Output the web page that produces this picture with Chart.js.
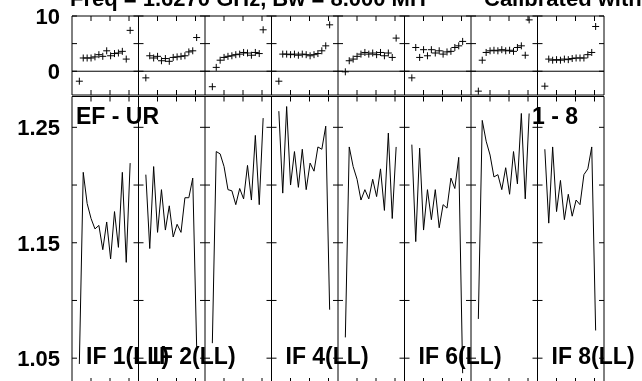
<!DOCTYPE html>
<html>
<head>
<meta charset="utf-8">
<script src="https://cdn.jsdelivr.net/npm/chart.js"></script>
<style>
  html, body { margin: 0; padding: 0; background: #fff; overflow: hidden; }
  #wrap { position: relative; width: 642px; height: 381px; overflow: hidden; background: #fff; }
  #amp { position: absolute; left: 0; top: 90px; }
  #fase { position: absolute; left: 0; top: 0; }
</style>
</head>
<body>
<div id="wrap">
  <canvas id="amp" width="642" height="300"></canvas>
  <canvas id="fase" width="642" height="100"></canvas>
</div>
<script>
// canales de cada IF
const canales = [1, 2, 3, 4, 5, 6, 7, 8, 9, 10, 11, 12, 13, 14];
const etiquetasIF = ["IF 1(LL)", "IF 2(LL)", "IF 3(LL)", "IF 4(LL)", "IF 5(LL)", "IF 6(LL)", "IF 7(LL)", "IF 8(LL)"];
const ifConEtiqueta = [0, 1, 3, 5, 7]; // las que se ven en la grafica

// fase (grados) por IF
const fase1 = [-1.8, 2.4, 2.4, 2.4, 2.6, 3.0, 2.7, 3.7, 2.8, 3.2, 3.3, 3.6, 2.2, 7.4];
const fase2 = [-1.2, 2.8, 2.4, 2.7, 1.9, 2.3, 1.8, 2.5, 2.6, 2.7, 2.8, 3.5, 3.7, 6.1];
const fase3 = [-2.8, 0.7, 2.0, 2.5, 2.7, 2.8, 3.0, 3.1, 3.4, 3.3, 2.9, 3.4, 3.2, 7.5];
const fase4 = [-1.8, 3.1, 3.1, 3.0, 3.1, 2.9, 3.1, 3.0, 2.8, 3.0, 3.2, 3.7, 4.6, 8.4];
const fase5 = [-0.1, 1.9, 2.2, 2.7, 3.1, 3.4, 3.1, 3.3, 3.0, 3.4, 2.8, 3.3, 2.5, 6.0];
const fase6 = [-1.2, 4.3, 2.5, 3.9, 2.8, 3.9, 3.3, 3.7, 3.1, 3.5, 3.6, 4.3, 4.6, 5.4];
const fase7 = [-3.6, 2.0, 3.4, 3.7, 3.8, 3.7, 3.9, 3.7, 3.8, 3.6, 4.3, 4.6, 2.9, 9.3];
const fase8 = [-2.7, 2.2, 2.0, 2.1, 2.0, 2.2, 2.1, 2.3, 2.4, 2.4, 2.4, 3.0, 3.4, 8.1];

// amplitud por IF
const amp1 = [1.045, 1.211, 1.184, 1.171, 1.162, 1.165, 1.144, 1.168, 1.136, 1.177, 1.146, 1.211, 1.133, 1.219];
const amp2 = [1.209, 1.145, 1.216, 1.159, 1.196, 1.161, 1.182, 1.155, 1.166, 1.159, 1.189, 1.189, 1.206, 1.060];
const amp3 = [1.063, 1.229, 1.227, 1.216, 1.196, 1.195, 1.183, 1.197, 1.188, 1.217, 1.187, 1.243, 1.183, 1.258];
const amp4 = [1.264, 1.193, 1.268, 1.200, 1.229, 1.198, 1.231, 1.196, 1.219, 1.212, 1.233, 1.231, 1.251, 1.092];
const amp5 = [1.068, 1.233, 1.216, 1.205, 1.187, 1.196, 1.188, 1.205, 1.190, 1.214, 1.178, 1.245, 1.171, 1.233];
const amp6 = [1.235, 1.151, 1.232, 1.161, 1.196, 1.170, 1.196, 1.163, 1.183, 1.180, 1.206, 1.197, 1.224, 1.037];
const amp7 = [1.084, 1.256, 1.238, 1.226, 1.207, 1.209, 1.196, 1.215, 1.192, 1.229, 1.201, 1.262, 1.188, 1.262];
const amp8 = [1.231, 1.167, 1.233, 1.177, 1.204, 1.170, 1.192, 1.173, 1.187, 1.183, 1.209, 1.214, 1.233, 1.074];

const fases = [fase1, fase2, fase3, fase4, fase5, fase6, fase7, fase8];
const amps = [amp1, amp2, amp3, amp4, amp5, amp6, amp7, amp8];

const ANCHO = 7;          // unidades de x por panel
const marcasX = [2, 4, 6]; // marcas dentro de cada panel
const FUENTE = '"Liberation Sans", Arial, Helvetica, sans-serif';

Chart.defaults.font.family = FUENTE;
Chart.defaults.color = "#000";

function xCanal(k, c) {
  return k * ANCHO + 0.36 + c * 0.4115;
}

// marco, divisiones y marcas al estilo PGPLOT
const marco = {
  id: "marco",
  afterDatasetsDraw(chart, args, opts) {
    const { ctx, chartArea: a, scales: { x, y } } = chart;
    ctx.save();
    ctx.strokeStyle = "#000";
    ctx.lineWidth = 1;
    ctx.beginPath();
    ctx.moveTo(a.left, a.top); ctx.lineTo(a.right, a.top);
    ctx.moveTo(a.left, a.bottom); ctx.lineTo(a.right, a.bottom);
    for (let k = 0; k <= etiquetasIF.length; k++) {
      const px = x.getPixelForValue(k * ANCHO);
      ctx.moveTo(px, a.top); ctx.lineTo(px, a.bottom);
      y.ticks.forEach((t) => {
        const py = y.getPixelForValue(t.value);
        ctx.moveTo(Math.max(px - 5, a.left), py);
        ctx.lineTo(Math.min(px + 5, a.right), py);
      });
      if (k < etiquetasIF.length) {
        marcasX.forEach((m) => {
          const mx = x.getPixelForValue(k * ANCHO + m);
          ctx.moveTo(mx, a.top); ctx.lineTo(mx, a.top + 5);
          ctx.moveTo(mx, a.bottom); ctx.lineTo(mx, a.bottom - 5);
        });
      }
    }
    if (opts.cero) {
      const py = y.getPixelForValue(0);
      ctx.moveTo(a.left, py); ctx.lineTo(a.right, py);
    }
    ctx.stroke();
    ctx.restore();
  },
};

// textos fijos (titulo y etiquetas de los paneles)
const textos = {
  id: "textos",
  afterDraw(chart, args, opts) {
    const { ctx, chartArea: a, scales: { x } } = chart;
    ctx.save();
    ctx.fillStyle = "#000";
    ctx.textBaseline = "alphabetic";
    if (opts.titulo) {
      ctx.font = "bold 22px " + FUENTE;
      ctx.fillText("Freq = 1.6270 GHz, Bw = 8.000 MH", 70, 6);
      ctx.fillText("Calibrated with", 484, 6);
    }
    if (opts.paneles) {
      ctx.font = "bold 23px " + FUENTE;
      ctx.textAlign = "left";
      ctx.fillText("EF - UR", a.left + 4, a.top + 27.7);
      ctx.textAlign = "right";
      ctx.fillText("1 - 8", 578, a.top + 27.7);
      ctx.textAlign = "left";
      ifConEtiqueta.forEach((k) => {
        ctx.fillText(etiquetasIF[k], x.getPixelForValue(k * ANCHO) + 14, a.top + 267);
      });
    }
    ctx.restore();
  },
};

function escalaX() {
  return {
    type: "linear",
    min: 0,
    max: ANCHO * etiquetasIF.length,
    ticks: { display: false },
    grid: { display: false, drawTicks: false },
    border: { display: false },
    afterFit(s) { s.height = 0; s.paddingLeft = 0; s.paddingRight = 0; },
  };
}

function escalaY(min, max, paso, mostrar) {
  return {
    min: min,
    max: max,
    ticks: {
      stepSize: paso,
      includeBounds: false,
      padding: 12,
      labelOffset: 2,
      color: "#000",
      font: { size: 22, weight: "bold" },
      callback: mostrar,
    },
    grid: { display: false, drawTicks: false },
    border: { display: false },
    afterFit(s) { s.width = 72; s.paddingTop = 0; s.paddingBottom = 0; },
  };
}

// panel superior: fase
new Chart(document.getElementById("fase"), {
  type: "scatter",
  data: {
    datasets: fases.map((serie, k) => ({
      label: etiquetasIF[k],
      data: serie.map((v, i) => ({ x: xCanal(k, canales[i]), y: v })),
      pointStyle: "cross",
      pointRadius: 3.5,
      borderWidth: 1,
      borderColor: "#000",
      backgroundColor: "#000",
      showLine: false,
    })),
  },
  options: {
    responsive: false,
    animation: false,
    layout: { padding: { top: 16, right: 38, bottom: 3.5, left: 0 } },
    scales: {
      x: escalaX(),
      y: escalaY(-4.3, 10, 5, (v) => (v === 0 || v === 10 ? String(v) : "")),
    },
    plugins: {
      legend: { display: false },
      tooltip: { enabled: false },
      marco: { cero: true },
      textos: { titulo: true },
    },
  },
  plugins: [marco, textos],
});

// panel inferior: amplitud
new Chart(document.getElementById("amp"), {
  type: "scatter",
  data: {
    datasets: amps.map((serie, k) => ({
      label: etiquetasIF[k],
      data: serie.map((v, i) => ({ x: xCanal(k, canales[i]), y: v })),
      showLine: true,
      pointRadius: 0,
      borderWidth: 1,
      borderColor: "#000",
      tension: 0,
    })),
  },
  options: {
    responsive: false,
    animation: false,
    layout: { padding: { top: 6.5, right: 38, bottom: 7, left: 0 } },
    scales: {
      x: escalaX(),
      y: escalaY(1.0285, 1.2767, 0.05, (v) =>
        Math.round(v * 100) % 10 === 5 ? v.toFixed(2) : ""
      ),
    },
    plugins: {
      legend: { display: false },
      tooltip: { enabled: false },
      marco: { cero: false },
      textos: { paneles: true },
    },
  },
  plugins: [marco, textos],
});
</script>
</body>
</html>
